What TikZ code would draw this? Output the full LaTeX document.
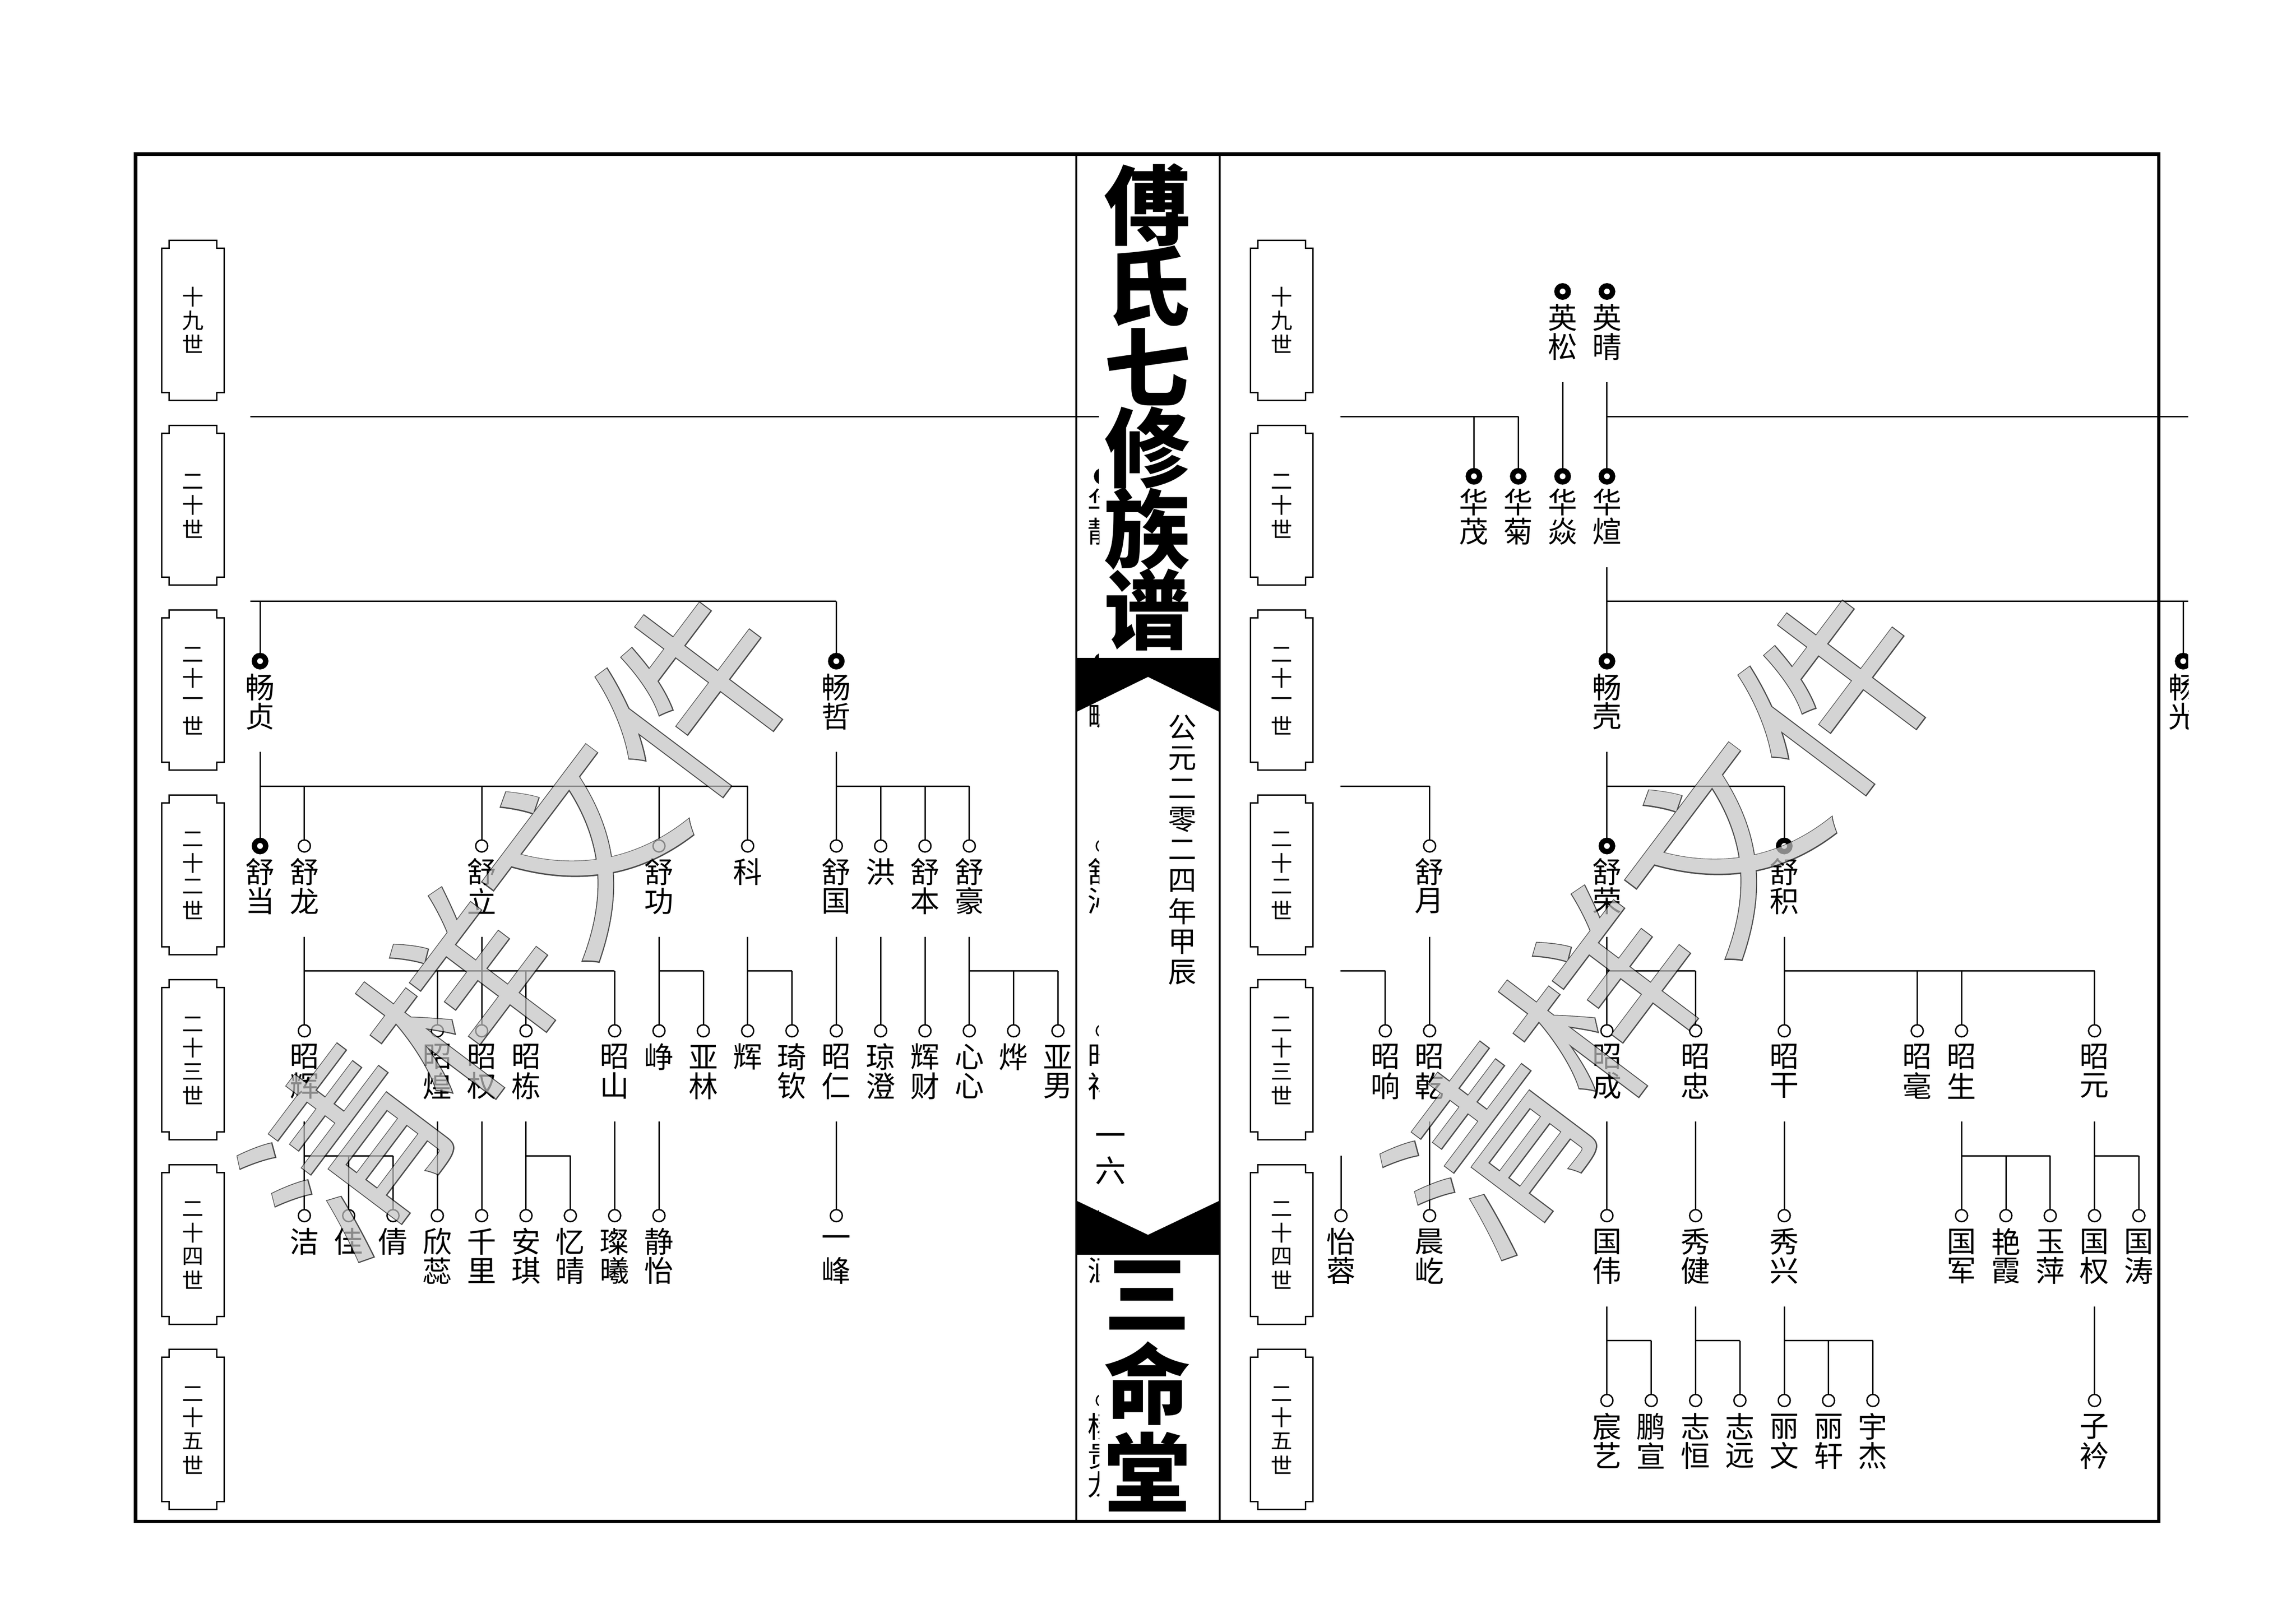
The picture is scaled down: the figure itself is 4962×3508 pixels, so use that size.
\documentclass[tikz,border=0pt]{standalone}
\usepackage{fontspec}
\newfontfamily\cjk{Noto Sans CJK SC}
\newfontfamily\cjkfb{Noto Sans CJK SC}[FakeBold=1]
\usetikzlibrary{calc}
\definecolor{wmgray}{RGB}{195,195,195}
\newcommand{\xl}[1]{562+95.8*#1}
\newcommand{\xr}[1]{2898+95.8*#1}
\tikzset{
  ln/.style={line width=0.85pt, draw=black},
  opn/.style={circle, draw, line width=0.85pt, minimum size=0.26cm, inner sep=0pt, fill=white},
  bld/.style={circle, draw, line width=3.27pt, minimum size=0.245cm, inner sep=0pt, fill=white},
  nm/.style={font=\cjk\fontsize{18}{18}\selectfont, inner sep=0pt},
  gl/.style={font=\cjk\fontsize{13.3}{14}\selectfont, inner sep=0pt},
  gbox/.style={rectangle, draw=none, minimum width=1.34cm, minimum height=3.45cm, inner sep=0pt, outer sep=0pt},
  ttl/.style={font=\cjk\bfseries\fontsize{53}{53}\selectfont, inner sep=0pt},
  dt/.style={font=\cjk\fontsize{17.5}{18}\selectfont, inner sep=0pt},
  pn/.style={font=\cjk\fontsize{19}{19}\selectfont, inner sep=0pt},
  wmo/.style={font=\cjkfb\fontsize{117}{117}\selectfont, inner sep=0pt, text=black},
  wm/.style={font=\cjk\fontsize{117}{117}\selectfont, inner sep=0pt, text=wmgray},
}
\newcommand{\gpPerson}[5]{%
  \node[#4] (#1) at (#2,#3) {};
  \foreach \ch [count=\i from 0] in {#5} {\node[nm] (#1-\i) at ($(#1.center)+(0,{56+63*\i})$) {\ch};}
}
\newcommand{\gpStub}[1]{\draw[ln] ($(#1.center)+(0,196)$) -- ($(#1.center)+(0,271)$);}
\newcommand{\gpDrop}[1]{\draw[ln] ($(#1.center)+(0,-129.5)$) -- (#1.north);}
\newcommand{\gpBar}[2]{\draw[ln] ($(#1.center)+(0,-129.5)$) -- ($(#2.center)+(0,-129.5)$);}
\newcommand{\gpDirect}[2]{\draw[ln] ($(#1.center)+(0,196)$) -- (#2.north);}
\newcommand{\gpBox}[5]{%
  \node[gbox] (#1) at (#2,#3) {};
  \draw[ln] ($(#1.north west)+(16,0)$) -- ($(#1.north east)+(-16,0)$) -- ($(#1.north east)+(-16,17)$) -- ($(#1.north east)+(0,17)$) -- ($(#1.south east)+(0,-17)$) -- ($(#1.south east)+(-16,-17)$) -- ($(#1.south east)+(-16,0)$) -- ($(#1.south west)+(16,0)$) -- ($(#1.south west)+(16,-17)$) -- ($(#1.south west)+(0,-17)$) -- ($(#1.north west)+(0,17)$) -- ($(#1.north west)+(16,17)$) -- cycle;
  \foreach \ch [count=\i from 0] in {#5} {\node[gl] (#1-\i) at ($(#1.center)+(0,{51*(\i-(#4-1)/2)})$) {\ch};}
}
\newcommand{\gpWatermark}[3]{%
  \begin{scope}[transparency group, opacity=0.7]
    \node[wmo, rotate=53] (#1o) at (#2,#3) {清样文件};
    \node[wm, rotate=53] (#1) at (#2,#3) {清样文件};
  \end{scope}
}
\begin{document}
\begin{tikzpicture}[x=0.01cm, y=-0.01cm]
\useasboundingbox (0,0) rectangle (4962,3508);
\fill[white] (0,0) rectangle (4962,3508);

% generation boxes
\gpBox{LG19}{417}{692.5}{3}{十,九,世}
\gpBox{LG20}{417}{1092}{3}{二,十,世}
\gpBox{LG21}{417}{1491.5}{4}{二,十,一,世}
\gpBox{LG22}{417}{1891}{4}{二,十,二,世}
\gpBox{LG23}{417}{2290.5}{4}{二,十,三,世}
\gpBox{LG24}{417}{2690}{4}{二,十,四,世}
\gpBox{LG25}{417}{3089.5}{4}{二,十,五,世}
\gpBox{RG19}{2770}{692.5}{3}{十,九,世}
\gpBox{RG20}{2770}{1092}{3}{二,十,世}
\gpBox{RG21}{2770}{1491.5}{4}{二,十,一,世}
\gpBox{RG22}{2770}{1891}{4}{二,十,二,世}
\gpBox{RG23}{2770}{2290.5}{4}{二,十,三,世}
\gpBox{RG24}{2770}{2690}{4}{二,十,四,世}
\gpBox{RG25}{2770}{3089.5}{4}{二,十,五,世}

% ================= left page tree =================
\begin{scope}
\clip (0,0) rectangle (2375,3508);
\coordinate (Lin19) at (541,900);
\coordinate (Lin20) at (541,1299.5);
% hidden column under the spine
\gpPerson{L20s}{\xl{19}}{1029.5}{bld}{华,靓}
\gpPerson{L21s}{\xl{19}}{1429}{bld}{畅,畴}
\gpPerson{L22s}{\xl{19}}{1828.5}{opn}{舒,沁}
\gpPerson{L23s}{\xl{19}}{2228}{opn}{昭,祥}
\gpPerson{L24s}{\xl{19}}{2627.5}{opn}{雨,涵}
\gpPerson{L25s}{\xl{19}}{3027}{opn}{杨,贵,龙}
% gen 21
\gpPerson{L21a}{\xl{0}}{1429}{bld}{畅,贞}
\gpPerson{L21b}{\xl{13}}{1429}{bld}{畅,哲}
% gen 22
\gpPerson{L22a}{\xl{0}}{1828.5}{bld}{舒,当}
\gpPerson{L22b}{\xl{1}}{1828.5}{opn}{舒,龙}
\gpPerson{L22c}{\xl{5}}{1828.5}{opn}{舒,立}
\gpPerson{L22d}{\xl{9}}{1828.5}{opn}{舒,功}
\gpPerson{L22e}{\xl{11}}{1828.5}{opn}{科}
\gpPerson{L22f}{\xl{13}}{1828.5}{opn}{舒,国}
\gpPerson{L22g}{\xl{14}}{1828.5}{opn}{洪}
\gpPerson{L22h}{\xl{15}}{1828.5}{opn}{舒,本}
\gpPerson{L22i}{\xl{16}}{1828.5}{opn}{舒,豪}
% gen 23
\gpPerson{L23a}{\xl{1}}{2228}{opn}{昭,辉}
\gpPerson{L23b}{\xl{4}}{2228}{opn}{昭,煌}
\gpPerson{L23c}{\xl{5}}{2228}{opn}{昭,权}
\gpPerson{L23d}{\xl{6}}{2228}{opn}{昭,栋}
\gpPerson{L23e}{\xl{8}}{2228}{opn}{昭,山}
\gpPerson{L23f}{\xl{9}}{2228}{opn}{峥}
\gpPerson{L23g}{\xl{10}}{2228}{opn}{亚,林}
\gpPerson{L23h}{\xl{11}}{2228}{opn}{辉}
\gpPerson{L23i}{\xl{12}}{2228}{opn}{琦,钦}
\gpPerson{L23j}{\xl{13}}{2228}{opn}{昭,仁}
\gpPerson{L23k}{\xl{14}}{2228}{opn}{琼,澄}
\gpPerson{L23l}{\xl{15}}{2228}{opn}{辉,财}
\gpPerson{L23m}{\xl{16}}{2228}{opn}{心,心}
\gpPerson{L23n}{\xl{17}}{2228}{opn}{烨}
\gpPerson{L23o}{\xl{18}}{2228}{opn}{亚,男}
% gen 24
\gpPerson{L24a}{\xl{1}}{2627.5}{opn}{洁}
\gpPerson{L24b}{\xl{2}}{2627.5}{opn}{佳}
\gpPerson{L24c}{\xl{3}}{2627.5}{opn}{倩}
\gpPerson{L24d}{\xl{4}}{2627.5}{opn}{欣,蕊}
\gpPerson{L24e}{\xl{5}}{2627.5}{opn}{千,里}
\gpPerson{L24f}{\xl{6}}{2627.5}{opn}{安,琪}
\gpPerson{L24g}{\xl{7}}{2627.5}{opn}{忆,晴}
\gpPerson{L24h}{\xl{8}}{2627.5}{opn}{璨,曦}
\gpPerson{L24i}{\xl{9}}{2627.5}{opn}{静,怡}
\gpPerson{L24j}{\xl{13}}{2627.5}{opn}{一,峰}
% connectors
\draw[ln] (Lin19) -- ($(L20s.center)+(0,-129.5)$); \gpDrop{L20s}
\draw[ln] (Lin20) -- ($(L21b.center)+(0,-129.5)$); \gpDrop{L21a} \gpDrop{L21b}
\gpStub{L21a} \gpBar{L22a}{L22e} \gpDrop{L22a} \gpDrop{L22b} \gpDrop{L22c} \gpDrop{L22d} \gpDrop{L22e}
\gpStub{L21b} \gpBar{L22f}{L22i} \gpDrop{L22f} \gpDrop{L22g} \gpDrop{L22h} \gpDrop{L22i}
\gpStub{L22b} \gpStub{L22c} \gpBar{L23a}{L23e} \gpDrop{L23a} \gpDrop{L23b} \gpDrop{L23c} \gpDrop{L23d} \gpDrop{L23e}
\gpStub{L22d} \gpBar{L23f}{L23g} \gpDrop{L23f} \gpDrop{L23g}
\gpStub{L22e} \gpBar{L23h}{L23i} \gpDrop{L23h} \gpDrop{L23i}
\gpDirect{L22f}{L23j} \gpDirect{L22g}{L23k} \gpDirect{L22h}{L23l}
\gpStub{L22i} \gpBar{L23m}{L23o} \gpDrop{L23m} \gpDrop{L23n} \gpDrop{L23o}
\gpStub{L23a} \gpBar{L24a}{L24c} \gpDrop{L24a} \gpDrop{L24b} \gpDrop{L24c}
\gpDirect{L23b}{L24d} \gpDirect{L23c}{L24e}
\gpStub{L23d} \gpBar{L24f}{L24g} \gpDrop{L24f} \gpDrop{L24g}
\gpDirect{L23e}{L24h} \gpDirect{L23f}{L24i} \gpDirect{L23j}{L24j}
\end{scope}

% ================= right page tree =================
\begin{scope}
\clip (2640,0) rectangle (4729,3508);
\coordinate (Rin19) at (2897,900);
\coordinate (Rout19) at (4800,900);
\coordinate (Rout20) at (4800,1299.5);
\coordinate (Rin21) at (2897,1699);
\coordinate (Rin22) at (2897,2098.5);
\coordinate (Rin23) at (2898,2498);
\gpPerson{R19a}{\xr{5}}{630}{bld}{英,松}
\gpPerson{R19b}{\xr{6}}{630}{bld}{英,晴}
\gpPerson{R20a}{\xr{3}}{1029.5}{bld}{华,茂}
\gpPerson{R20b}{\xr{4}}{1029.5}{bld}{华,菊}
\gpPerson{R20c}{\xr{5}}{1029.5}{bld}{华,焱}
\gpPerson{R20d}{\xr{6}}{1029.5}{bld}{华,煊}
\gpPerson{R21a}{\xr{6}}{1429}{bld}{畅,壳}
\gpPerson{R21b}{\xr{19}}{1429}{bld}{畅,光}
\gpPerson{R22a}{\xr{2}}{1828.5}{opn}{舒,月}
\gpPerson{R22b}{\xr{6}}{1828.5}{bld}{舒,荣}
\gpPerson{R22c}{\xr{10}}{1828.5}{bld}{舒,积}
\gpPerson{R23a}{\xr{1}}{2228}{opn}{昭,响}
\gpPerson{R23b}{\xr{2}}{2228}{opn}{昭,乾}
\gpPerson{R23c}{\xr{6}}{2228}{opn}{昭,成}
\gpPerson{R23d}{\xr{8}}{2228}{opn}{昭,忠}
\gpPerson{R23e}{\xr{10}}{2228}{opn}{昭,干}
\gpPerson{R23f}{\xr{13}}{2228}{opn}{昭,毫}
\gpPerson{R23g}{\xr{14}}{2228}{opn}{昭,生}
\gpPerson{R23h}{\xr{17}}{2228}{opn}{昭,元}
\gpPerson{R24a}{\xr{0}}{2627.5}{opn}{怡,蓉}
\gpPerson{R24b}{\xr{2}}{2627.5}{opn}{晨,屹}
\gpPerson{R24c}{\xr{6}}{2627.5}{opn}{国,伟}
\gpPerson{R24d}{\xr{8}}{2627.5}{opn}{秀,健}
\gpPerson{R24e}{\xr{10}}{2627.5}{opn}{秀,兴}
\gpPerson{R24f}{\xr{14}}{2627.5}{opn}{国,军}
\gpPerson{R24g}{\xr{15}}{2627.5}{opn}{艳,霞}
\gpPerson{R24h}{\xr{16}}{2627.5}{opn}{玉,萍}
\gpPerson{R24i}{\xr{17}}{2627.5}{opn}{国,权}
\gpPerson{R24j}{\xr{18}}{2627.5}{opn}{国,涛}
\gpPerson{R25a}{\xr{6}}{3027}{opn}{宸,艺}
\gpPerson{R25b}{\xr{7}}{3027}{opn}{鹏,宣}
\gpPerson{R25c}{\xr{8}}{3027}{opn}{志,恒}
\gpPerson{R25d}{\xr{9}}{3027}{opn}{志,远}
\gpPerson{R25e}{\xr{10}}{3027}{opn}{丽,文}
\gpPerson{R25f}{\xr{11}}{3027}{opn}{丽,轩}
\gpPerson{R25g}{\xr{12}}{3027}{opn}{宇,杰}
\gpPerson{R25h}{\xr{17}}{3027}{opn}{子,衿}
% connectors
\draw[ln] (Rin19) -- ($(R20b.center)+(0,-129.5)$); \gpDrop{R20a} \gpDrop{R20b}
\gpDirect{R19a}{R20c}
\gpStub{R19b} \draw[ln] ($(R20d.center)+(0,-129.5)$) -- (Rout19); \gpDrop{R20d}
\gpStub{R20d} \draw[ln] ($(R21a.center)+(0,-129.5)$) -- (Rout20); \gpDrop{R21a} \gpDrop{R21b}
\draw[ln] (Rin21) -- ($(R22a.center)+(0,-129.5)$); \gpDrop{R22a}
\gpStub{R21a} \gpBar{R22b}{R22c} \gpDrop{R22b} \gpDrop{R22c}
\draw[ln] (Rin22) -- ($(R23a.center)+(0,-129.5)$); \gpDrop{R23a}
\gpDirect{R22a}{R23b}
\gpStub{R22b} \gpBar{R23c}{R23d} \gpDrop{R23c} \gpDrop{R23d}
\gpStub{R22c} \gpBar{R23e}{R23h} \gpDrop{R23e} \gpDrop{R23f} \gpDrop{R23g} \gpDrop{R23h}
\draw[ln] (Rin23) -- (R24a.north);
\gpDirect{R23b}{R24b} \gpDirect{R23c}{R24c} \gpDirect{R23d}{R24d} \gpDirect{R23e}{R24e}
\gpStub{R23g} \gpBar{R24f}{R24h} \gpDrop{R24f} \gpDrop{R24g} \gpDrop{R24h}
\gpStub{R23h} \gpBar{R24i}{R24j} \gpDrop{R24i} \gpDrop{R24j}
\gpStub{R24c} \gpBar{R25a}{R25b} \gpDrop{R25a} \gpDrop{R25b}
\gpStub{R24d} \gpBar{R25c}{R25d} \gpDrop{R25c} \gpDrop{R25d}
\gpStub{R24e} \gpBar{R25e}{R25g} \gpDrop{R25e} \gpDrop{R25f} \gpDrop{R25g}
\gpDirect{R24i}{R25h}
\end{scope}

% ================= spine =================
\fill[black] (2326,1422) -- (2636,1422) -- (2636,1539) -- (2481,1463) -- (2326,1539) -- cycle;
\fill[black] (2326,2712) -- (2636,2712) -- (2636,2595) -- (2481,2669) -- (2326,2595) -- cycle;
\foreach \ch [count=\i from 0] in {傅,氏,七,修,族,谱} {\node[ttl] (ta-\i) at (2480,{443+175*\i}) {\ch};}
\foreach \ch [count=\i from 0] in {三,命,堂} {\node[ttl] (tb-\i) at (2480,{2800+190.5*\i}) {\ch};}
\foreach \ch [count=\i from 0] in {公,元,二,零,二,四,年,甲,辰} {\node[dt] (dt-\i) at (2555,{1573+66.1*\i}) {\ch};}
\node[pn] (pg-0) at (2400,2464) {一};
\node[pn] (pg-1) at (2400,2530) {六};
\draw[line width=1.4pt] (2326,333) -- (2326,3288);
\draw[line width=1.4pt] (2636,333) -- (2636,3288);

% page border
\draw[line width=2pt] (293,333) rectangle (4665,3288);

% watermarks
\gpWatermark{wmL}{1122}{1992}
\gpWatermark{wmR}{3592}{1988}
\end{tikzpicture}
\end{document}
